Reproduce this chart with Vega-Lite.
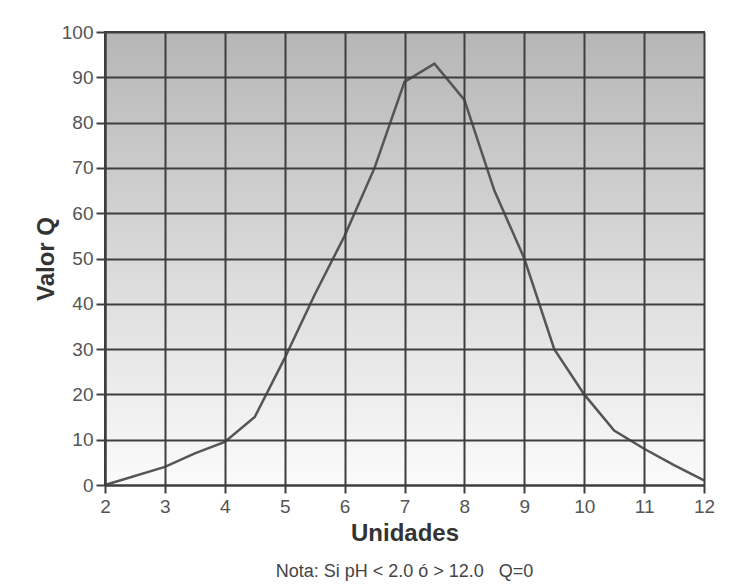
{
  "$schema": "https://vega.github.io/schema/vega-lite/v6.json",
  "width": 599,
  "height": 453,
  "autosize": {"type": "none"},
  "padding": {"left": 105, "top": 32, "right": 48, "bottom": 100},
  "background": "white",
  "title": {
    "text": "Nota: Si pH < 2.0 ó > 12.0\u00a0\u00a0\u00a0Q=0",
    "orient": "bottom",
    "anchor": "middle",
    "font": "Liberation Sans",
    "fontSize": 18,
    "fontWeight": "normal",
    "color": "#444",
    "offset": 18
  },
  "data": {
    "values": [
      {"ph": 2, "q": 0},
      {"ph": 3, "q": 4},
      {"ph": 3.5, "q": 7},
      {"ph": 4, "q": 9.5},
      {"ph": 4.5, "q": 15},
      {"ph": 5, "q": 28},
      {"ph": 5.5, "q": 42},
      {"ph": 6, "q": 55},
      {"ph": 6.5, "q": 70},
      {"ph": 7, "q": 89},
      {"ph": 7.5, "q": 93},
      {"ph": 8, "q": 85},
      {"ph": 8.5, "q": 65},
      {"ph": 9, "q": 50},
      {"ph": 9.5, "q": 30},
      {"ph": 10, "q": 20},
      {"ph": 10.5, "q": 12},
      {"ph": 11, "q": 8},
      {"ph": 11.5, "q": 4.4},
      {"ph": 12, "q": 1}
    ]
  },
  "layer": [
    {
      "mark": {
        "type": "rect",
        "color": {
          "gradient": "linear",
          "x1": 0, "y1": 0, "x2": 0, "y2": 1,
          "stops": [
            {"offset": 0, "color": "#b6b6b6"},
            {"offset": 1, "color": "#fbfbfb"}
          ]
        }
      },
      "encoding": {
        "x": {"datum": 2, "type": "quantitative"},
        "x2": {"datum": 12},
        "y": {"datum": 0, "type": "quantitative"},
        "y2": {"datum": 100}
      }
    },
    {
      "mark": {"type": "line", "color": "#555555", "strokeWidth": 2.5},
      "encoding": {
        "x": {
          "field": "ph",
          "type": "quantitative",
          "scale": {"domain": [2, 12], "nice": false, "zero": false},
          "axis": {
            "title": "Unidades",
            "values": [2, 3, 4, 5, 6, 7, 8, 9, 10, 11, 12],
            "format": "d",
            "labelFlush": false,
            "zindex": 1,
            "grid": true,
            "gridColor": "#3e3e3e",
            "gridWidth": 2,
            "gridOpacity": 1,
            "domainColor": "#3e3e3e",
            "domainWidth": 2,
            "tickColor": "#3e3e3e",
            "tickWidth": 2,
            "tickSize": 8,
            "labelPadding": 4,
            "labelFont": "Liberation Sans",
            "labelFontSize": 19,
            "labelColor": "#555",
            "titleFont": "Liberation Sans",
            "titleFontSize": 24,
            "titleFontWeight": "bold",
            "titleColor": "#333",
            "titlePadding": 5
          }
        },
        "y": {
          "field": "q",
          "type": "quantitative",
          "scale": {"domain": [0, 100], "nice": false},
          "axis": {
            "title": "Valor Q",
            "values": [0, 10, 20, 30, 40, 50, 60, 70, 80, 90, 100],
            "format": "d",
            "labelFlush": false,
            "zindex": 1,
            "grid": true,
            "gridColor": "#3e3e3e",
            "gridWidth": 2,
            "gridOpacity": 1,
            "domainColor": "#3e3e3e",
            "domainWidth": 2,
            "tickColor": "#3e3e3e",
            "tickWidth": 2,
            "tickSize": 9,
            "labelPadding": 3,
            "labelFont": "Liberation Sans",
            "labelFontSize": 19,
            "labelColor": "#555",
            "titleFont": "Liberation Sans",
            "titleFontSize": 24,
            "titleFontWeight": "bold",
            "titleColor": "#333",
            "titlePadding": 3
          }
        }
      }
    }
  ],
  "config": {"view": {"stroke": "#3e3e3e", "strokeWidth": 2}}
}
